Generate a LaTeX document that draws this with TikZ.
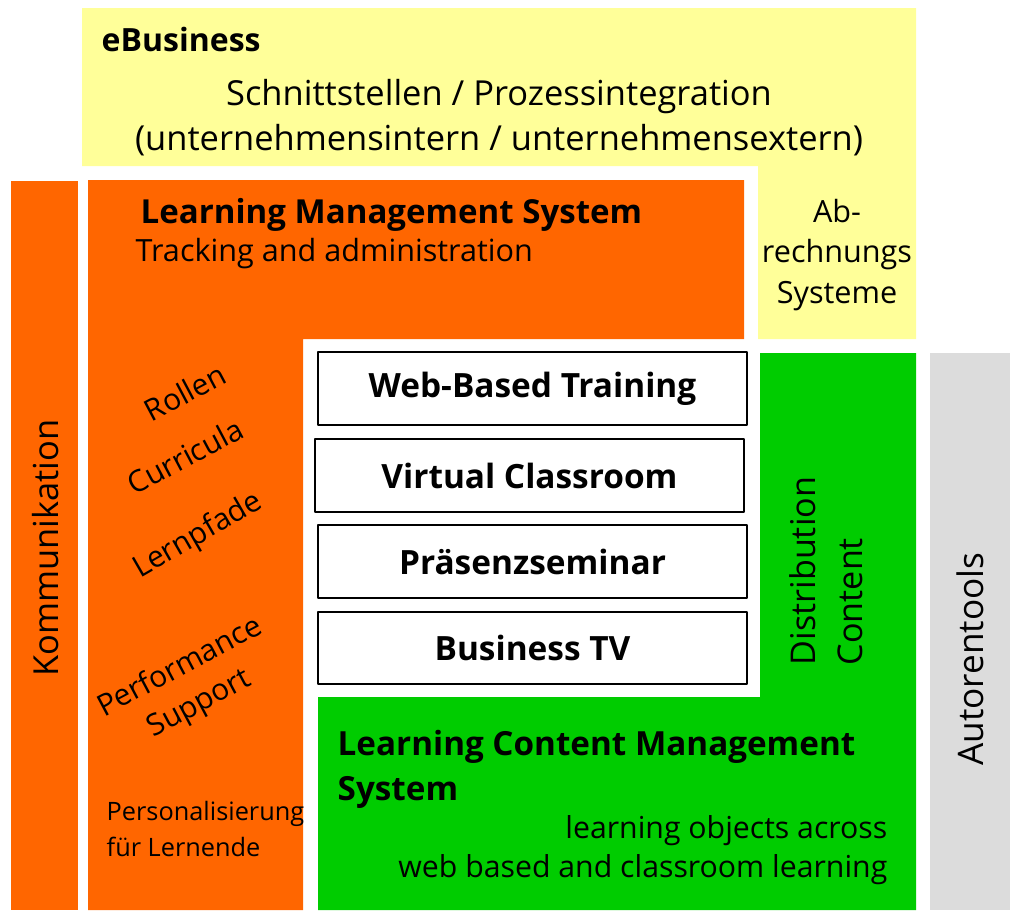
\documentclass[tikz,border=0pt]{standalone}
\usepackage{fontspec}
\setmainfont{Open Sans}
\definecolor{gelb}{HTML}{FFFF99}
\definecolor{orange}{HTML}{FF6600}
\definecolor{gruen}{HTML}{00CC00}
\definecolor{grau}{HTML}{DCDCDC}
\tikzset{
	kasten/.style={draw=black,line width=0.6pt,fill=white},
	txt/.style={inner sep=0pt},
	titel/.style={txt,font=\fontsize{9.5}{12}\selectfont\bfseries},
	gross/.style={txt,font=\fontsize{9.8}{12.8}\selectfont},
	normal/.style={txt,font=\fontsize{8.7}{11.4}\selectfont},
	klein/.style={txt,font=\fontsize{7.2}{10}\selectfont},
	schraeg/.style={txt,font=\fontsize{8.5}{11.7}\selectfont,rotate=28,align=center}
}
\begin{document}
\begin{tikzpicture}[x=0.01cm,y=-0.01cm,line join=round]
	\useasboundingbox (0,0) rectangle (1010,911);
	% eBusiness (oben und rechts)
	\fill[gelb] (82,8)--(916,8)--(916,339)--(758,339)--(758,166)--(82,166)--cycle;
	% Kommunikation
	\fill[orange] (11,181) rectangle (78,910);
	% LMS
	\fill[orange] (88,180)--(744,180)--(744,339)--(303,339)--(303,910)--(88,910)--cycle;
	% LCMS und Distribution
	\fill[gruen] (760,353)--(916,353)--(916,910)--(318,910)--(318,697)--(760,697)--cycle;
	% Autorentools
	\fill[grau] (930,353) rectangle (1010,910);
	% Texte
	\node[titel,font=\fontsize{9.1}{11}\selectfont\bfseries,anchor=west] (ebiz) at (101,39) {eBusiness};
	\node[gross,align=center] (schnitt) at (499,118) {Schnittstellen / Prozessintegration\\(unternehmensintern / unternehmensextern)};
	\node[titel,font=\fontsize{9.4}{11}\selectfont\bfseries,anchor=west] (lms) at (140,215) {Learning Management System};
	\node[normal,anchor=west] (track) at (135,254) {Tracking and administration};
	\node[normal,align=center] (abr) at (837,255) {Ab-\\rechnungs\\Systeme};
	\node[gross,rotate=90] (komm) at (46,548) {Kommunikation};
	\node[schraeg] (rollen) at (185,392) {Rollen};
	\node[schraeg] (curr) at (185,456) {Curricula};
	\node[schraeg,rotate=2] (pfade) at (198,536) {Lernpfade};
	\node[schraeg] (perf) at (190,686) {Performance\\Support};
	\node[klein,anchor=west,align=left] (pers) at (106,829) {Personalisierung\\für Lernende};
	% Lernformen
	\draw[kasten] (318,352) rectangle (747,425) node[midway,titel] (wbt) {Web-Based Training};
	\draw[kasten] (315,439) rectangle (744,512) node[midway,titel] (vc) {Virtual Classroom};
	\draw[kasten] (318,525) rectangle (747,598) node[midway,titel] (ps) {Präsenzseminar};
	\draw[kasten] (318,612) rectangle (747,684) node[midway,titel] (btv) {Business TV};
	\node[gross,rotate=90,align=left,font=\fontsize{9.7}{13.4}\selectfont] (dist) at (826,571) {Distribution\\Content};
	\node[gross,rotate=90,font=\fontsize{10}{12}\selectfont] (autor) at (970,659) {Autorentools};
	\node[titel,anchor=west,align=left,font=\fontsize{9.45}{12.8}\selectfont\bfseries] (lcms) at (337,769) {Learning Content Management\\System};
	\node[normal,anchor=east,align=right,font=\fontsize{8.6}{11}\selectfont] (lo) at (888,850) {learning objects across\\web based and classroom learning};
\end{tikzpicture}
\end{document}
